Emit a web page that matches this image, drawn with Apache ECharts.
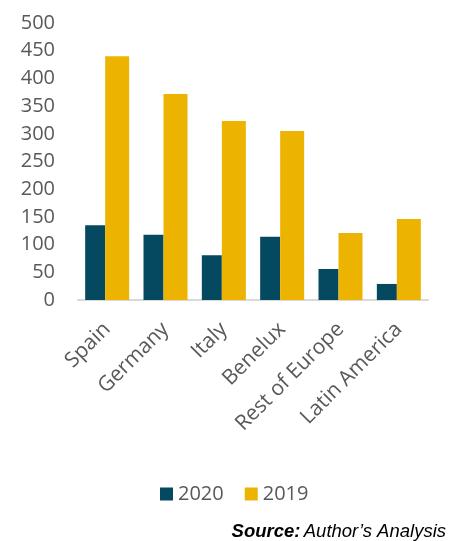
<!DOCTYPE html>
<html><head><meta charset="utf-8">
<script src="https://cdn.jsdelivr.net/npm/echarts@6/dist/echarts.min.js"></script>
<style>html,body{margin:0;padding:0;background:#fff}#c{width:449px;height:541px}</style>
</head><body><div id="c"></div>
<script>
const categories = ['Spain','Germany','Italy','Benelux','Rest of Europe','Latin America'];
const values2020 = [135, 118, 81, 114, 56, 29];
const values2019 = [440, 372, 323, 305, 121, 146];
const yTicks = [0,50,100,150,200,250,300,350,400,450,500];

const chart = echarts.init(document.getElementById('c'));
chart.setOption({
  animation: false,
  backgroundColor: '#ffffff',
  grid: {left: 78, right: 21, top: 23, bottom: 241, containLabel: false},
  legend: {
    left: 155, top: 479, itemWidth: 13, itemHeight: 13, itemGap: 21,
    icon: 'rect',
    textStyle: {fontFamily: 'Open Sans', fontSize: 20, color: '#595959'},
    data: ['2020','2019']
  },
  xAxis: {
    type: 'category', data: categories,
    axisLine: {lineStyle: {color: '#d9d9d9', width: 2}},
    axisTick: {show: false},
    axisLabel: {rotate: 45, interval: 0, margin: 26, fontFamily: 'Open Sans', fontSize: 21, color: '#595959'}
  },
  yAxis: {
    type: 'value', min: yTicks[0], max: yTicks[yTicks.length-1], interval: 50,
    splitLine: {show: false}, axisLine: {show: false}, axisTick: {show: false},
    axisLabel: {margin: 23, fontFamily: 'Open Sans', fontSize: 20, color: '#595959'}
  },
  series: [
    {name: '2020', type: 'bar', data: values2020, barWidth: 20, barGap: '0%', itemStyle: {color: '#04495F'}},
    {name: '2019', type: 'bar', data: values2019, barWidth: 24, barGap: '0%', itemStyle: {color: '#ECB400'}}
  ],
  graphic: [{
    type: 'text', right: 3, top: 522,
    style: {
      text: '{b|Source:} {i|Author\u2019s Analysis}',
      rich: {
        b: {fontFamily: 'Liberation Sans', fontSize: 18.5, fontWeight: 'bold', fontStyle: 'italic', fill: '#000'},
        i: {fontFamily: 'Liberation Sans', fontSize: 18.5, fontStyle: 'italic', fill: '#000'}
      }
    }
  }]
});
</script></body></html>
